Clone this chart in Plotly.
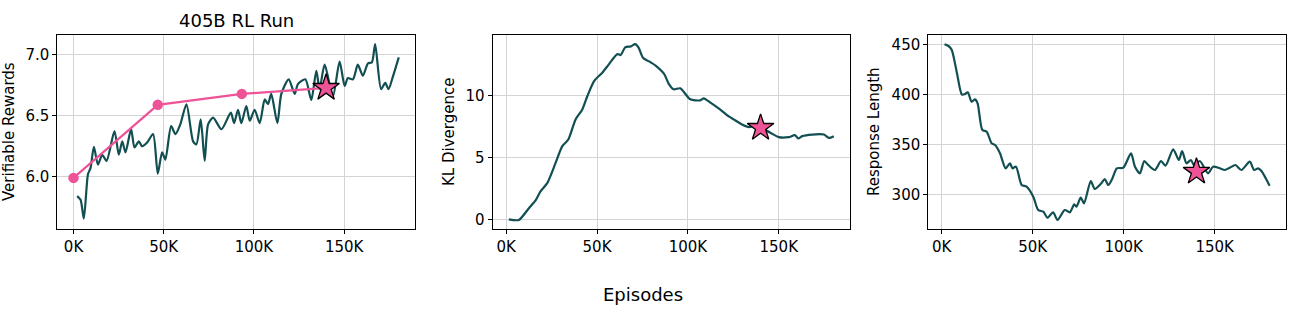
import plotly.graph_objects as go

# ---------------- data (episodes in thousands) ----------------
rew_x = [2.0, 3.9, 5.7, 8.0, 9.4, 11.3, 13.5, 15.9, 18.3, 22.7, 25.1, 27.0, 28.8, 31.9, 33.8,
         36.2, 38.0, 40.8, 44.1, 46.7, 49.1, 50.9, 54.1, 56.5, 59.2, 62.6, 66.3, 68.1, 70.5,
         72.7, 74.6, 77.4, 82.0, 87.2, 89.0, 91.2, 93.0, 95.8, 97.7, 100.4, 103.2, 106.0,
         107.8, 109.6, 113.0, 115.2, 119.3, 122.6, 124.4, 128.5, 131.8, 134.6, 136.4, 139.2,
         143.8, 147.5, 150.3, 152.1, 154.9, 157.6, 160.4, 163.2, 165.4, 167.2, 170.5, 172.8,
         174.6, 177.0, 180.3]
rew_y = [5.84, 5.81, 5.655, 6.02, 6.07, 6.245, 6.10, 6.18, 6.13, 6.375, 6.18, 6.29, 6.20, 6.39, 6.24,
         6.29, 6.25, 6.28, 6.35, 6.025, 6.20, 6.14, 6.415, 6.35, 6.43, 6.595, 6.29, 6.265, 6.47,
         6.13, 6.43, 6.485, 6.39, 6.526, 6.44, 6.55, 6.44, 6.58, 6.46, 6.55, 6.44, 6.635,
         6.595, 6.68, 6.44, 6.68, 6.80, 6.68, 6.76, 6.80, 6.63, 6.87, 6.72, 6.92,
         6.66, 6.946, 6.745, 6.81, 6.80, 6.92, 6.83, 6.93, 6.94, 7.09, 6.72, 6.77,
         6.72, 6.82, 6.98]

rm_x = [0.0, 46.7, 93.3, 140.0]
rm_y = [5.99, 6.59, 6.68, 6.73]

kl_x = [1.5, 7.0, 12.5, 16.2, 18.9, 22.6, 27.2, 30.9, 34.2, 38.2, 41.9, 44.7, 48.4, 53.0, 56.6,
        61.2, 63.0, 65.5, 68.6, 71.0, 72.8, 75.4, 78.7, 82.4, 87.0, 89.4, 92.1, 95.8, 101.3,
        106.8, 108.7, 112.4, 116.9, 121.5, 125.2, 129.8, 133.5, 137.0, 140.5, 145.4, 150.0,
        155.5, 158.9, 160.7, 162.9, 168.4, 174.9, 177.6, 180.3]
kl_y = [0.05, 0.0, 0.95, 1.57, 2.3, 2.97, 4.6, 5.95, 6.49, 8.11, 8.92, 10.0, 11.2, 11.9, 12.57,
        13.38, 13.3, 13.92, 14.0, 14.19, 13.92, 13.06, 12.79, 12.43, 11.76, 11.0, 10.54, 10.62, 9.73,
        9.65, 9.81, 9.46, 9.0, 8.46, 8.11, 7.7, 7.49, 7.6, 7.43, 7.03, 6.68,
        6.68, 6.84, 6.57, 6.76, 6.89, 6.89, 6.62, 6.76]

len_x = [1.5, 3.7, 5.5, 8.2, 11.0, 12.5, 14.3, 16.4, 18.3, 19.7, 22.3, 24.7, 27.4, 29.3, 32.0,
         35.1, 37.5, 38.8, 40.8, 43.9, 46.6, 50.3, 53.0, 55.8, 58.1, 61.2, 63.6, 67.6, 70.4,
         72.8, 74.0, 76.4, 78.2, 81.9, 84.1, 87.7, 89.6, 91.5, 93.8, 96.2, 99.8, 104.0, 106.2,
         108.9, 111.3, 113.5, 117.2, 120.5, 123.0, 127.2, 130.3, 132.1, 134.5, 136.9, 139.0,
         141.8, 146.4, 149.1, 152.8, 155.6, 158.3, 161.4, 164.7, 169.3, 171.7, 173.9, 175.7,
         180.2]
len_y = [450, 448.3, 444.3, 422.6, 400, 400, 402, 392.6, 395, 391, 364.3, 362.6, 351, 349.3, 341,
         326, 331, 326, 327.6, 309.3, 307.6, 297.6, 284.3, 282.6, 276.6, 282, 274.3, 284.3, 282,
         290, 287.6, 296.6, 291, 313.3, 305.3, 311, 315.3, 309.3, 316, 326, 326.6, 341, 327.6,
         321, 333.3, 329.3, 324.3, 333.3, 328.6, 345, 334.3, 343.3, 331, 334.3, 328,
         333.3, 321, 327.6, 326, 324.3, 326.6, 329.3, 324.3, 332.6, 324.3, 326, 323.3,
         308.6]

star_x = 140.0
star_kl = 7.43
star_len = 322.6

x_ticks = [0, 50, 100, 150]
x_tick_text = ["0K", "50K", "100K", "150K"]

# ---------------- styling ----------------
TEAL = "#124f52"
PINK = "#ee5398"
W, H = 1292, 309
FONT = "DejaVu Sans"

def px_x(p):
    return p / W

def px_y(p):
    return 1 - p / H

fig = go.Figure()

line_style = dict(color=TEAL, width=2.2, shape="spline", smoothing=0.7)

fig.add_trace(go.Scatter(x=rew_x, y=rew_y, mode="lines", line=line_style,
                         xaxis="x", yaxis="y", showlegend=False, hoverinfo="skip"))
fig.add_trace(go.Scatter(x=rm_x[:-1], y=rm_y[:-1], mode="lines+markers",
                         line=dict(color=PINK, width=2.2), marker=dict(size=10.5, color=PINK),
                         xaxis="x", yaxis="y", showlegend=False))
fig.add_trace(go.Scatter(x=rm_x[-2:], y=rm_y[-2:], mode="lines",
                         line=dict(color=PINK, width=2.2),
                         xaxis="x", yaxis="y", showlegend=False))
fig.add_trace(go.Scatter(x=[rm_x[-1]], y=[rm_y[-1]], mode="markers",
                         marker=dict(symbol="star", size=20, color=PINK,
                                     line=dict(color="black", width=1.3)),
                         xaxis="x", yaxis="y", showlegend=False))

fig.add_trace(go.Scatter(x=kl_x, y=kl_y, mode="lines", line=line_style,
                         xaxis="x2", yaxis="y2", showlegend=False))
fig.add_trace(go.Scatter(x=[star_x], y=[star_kl], mode="markers",
                         marker=dict(symbol="star", size=20, color=PINK,
                                     line=dict(color="black", width=1.3)),
                         xaxis="x2", yaxis="y2", showlegend=False))

fig.add_trace(go.Scatter(x=len_x, y=len_y, mode="lines", line=line_style,
                         xaxis="x3", yaxis="y3", showlegend=False))
fig.add_trace(go.Scatter(x=[star_x], y=[star_len], mode="markers",
                         marker=dict(symbol="star", size=20, color=PINK,
                                     line=dict(color="black", width=1.3)),
                         xaxis="x3", yaxis="y3", showlegend=False))

ydom = [px_y(229), px_y(35)]
xdoms = [[px_x(57.3), px_x(415)], [px_x(492.7), px_x(850)], [px_x(928.3), px_x(1286)]]

common = dict(showline=True, linecolor="black", linewidth=1.1, mirror=True,
              ticks="outside", ticklen=4, tickwidth=1, tickcolor="black",
              showgrid=True, gridcolor="#d4d4d4", gridwidth=1, zeroline=False,
              tickfont=dict(family=FONT, size=15, color="black"))

xr = [[-9.0, 189.3], [-7.4, 189.2], [-7.4, 189.2]]
yr = [[5.570, 7.164], [-0.73, 14.92], [265.3, 459.3]]
yticks = [[6.0, 6.5, 7.0], [0, 5, 10], [300, 350, 400, 450]]
ytext = [["6.0", "6.5", "7.0"], ["0", "5", "10"], ["300", "350", "400", "450"]]

layout = dict(width=W, height=H, margin=dict(l=0, r=0, t=0, b=0),
              paper_bgcolor="white", plot_bgcolor="white",
              font=dict(family=FONT, size=15, color="black"), showlegend=False)

for i in range(3):
    sx = "" if i == 0 else str(i + 1)
    layout["xaxis" + sx] = dict(common, domain=xdoms[i], range=xr[i],
                                tickvals=x_ticks, ticktext=x_tick_text,
                                anchor="y" + sx)
    layout["yaxis" + sx] = dict(common, domain=ydom, range=yr[i],
                                tickvals=yticks[i], ticktext=ytext[i],
                                anchor="x" + sx)

fig.update_layout(**layout)

annots = [
    dict(text="405B RL Run", x=px_x(236), y=px_y(20), font=dict(size=18)),
    dict(text="Episodes", x=px_x(643), y=px_y(294), font=dict(size=18)),
    dict(text="Verifiable Rewards", x=px_x(9), y=px_y(132), textangle=-90, font=dict(size=15)),
    dict(text="KL Divergence", x=px_x(449), y=px_y(132), textangle=-90, font=dict(size=15)),
    dict(text="Response Length", x=px_x(874), y=px_y(132), textangle=-90, font=dict(size=15)),
]
for a in annots:
    fig.add_annotation(xref="paper", yref="paper", showarrow=False,
                       xanchor="center", yanchor="middle",
                       font=dict(family=FONT, color="black", size=a["font"]["size"]),
                       **{k: v for k, v in a.items() if k != "font"})

fig.write_html("out.html")
